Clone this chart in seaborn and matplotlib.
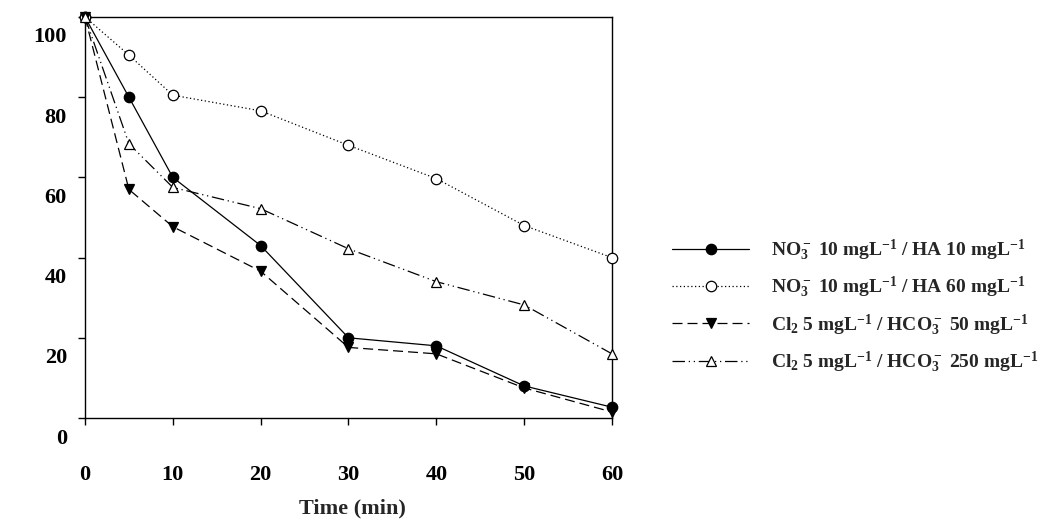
import matplotlib
matplotlib.use("Agg")
import matplotlib.pyplot as plt
import matplotlib.transforms as mtransforms
from matplotlib.lines import Line2D
import seaborn as sns
import pandas as pd

sns.set_theme(style="white")
plt.rcParams['font.family'] = ['Liberation Serif', 'DejaVu Serif']
plt.rcParams['mathtext.fontset'] = 'custom'
plt.rcParams['mathtext.rm'] = 'Liberation Serif:bold'
plt.rcParams['mathtext.bf'] = 'Liberation Serif:bold'
plt.rcParams['mathtext.it'] = 'Liberation Serif:bold'

# Data
time_min = [0, 5, 10, 20, 30, 40, 50, 60]
no3_ha10 = [100, 80, 60, 43, 20, 18, 8, 2.7]
no3_ha60 = [100, 90.5, 80.5, 76.6, 68, 59.7, 48, 40]
cl_hco3_50 = [100, 57, 47.7, 36.6, 17.6, 16, 7.5, 1.5]
cl_hco3_250 = [100, 68.4, 57.5, 52.2, 42.2, 34, 28.2, 16]

series_labels = [
    r"NO$_3^-$ 10 mgL$^{-1}$ / HA 10 mgL$^{-1}$",
    r"NO$_3^-$ 10 mgL$^{-1}$ / HA 60 mgL$^{-1}$",
    r"Cl$_2$ 5 mgL$^{-1}$ / HCO$_3^-$ 50 mgL$^{-1}$",
    r"Cl$_2$ 5 mgL$^{-1}$ / HCO$_3^-$ 250 mgL$^{-1}$",
]
x_ticks = [0, 10, 20, 30, 40, 50, 60]
y_ticks = [0, 20, 40, 60, 80, 100]
x_label = "Time (min)"

styles = [
    dict(marker="o", mfc="black", ls="-"),
    dict(marker="o", mfc="white", ls=(0, (1, 2))),
    dict(marker="v", mfc="black", ls=(0, (8, 4))),
    dict(marker="^", mfc="white", ls=(0, (10, 3, 1, 3, 1, 3))),
]
values = [no3_ha10, no3_ha60, cl_hco3_50, cl_hco3_250]

fig = plt.figure(figsize=(10.61, 5.26), dpi=100)
ax = fig.add_axes([0.0801, 0.2053, 0.4967, 0.7624])

handles = []
for vals, st, lab in zip(values, styles, series_labels):
    df = pd.DataFrame({"t": time_min, "v": vals})
    sns.lineplot(data=df, x="t", y="v", ax=ax, color="black", linewidth=0.9,
                 linestyle=st["ls"], marker=st["marker"], markersize=7.5,
                 markerfacecolor=st["mfc"], markeredgecolor="black",
                 markeredgewidth=0.9, legend=False, zorder=3, clip_on=False)
    handles.append(Line2D([0], [0], color="black", lw=0.9, ls=st["ls"],
                          marker=st["marker"], markersize=7.5,
                          markerfacecolor=st["mfc"], markeredgecolor="black",
                          markeredgewidth=0.9, label=lab))

ax.set_xlim(0, 60)
ax.set_ylim(0, 100)
ax.set_xticks(x_ticks)
ax.set_yticks(y_ticks)
ax.set_xticklabels([str(v) for v in x_ticks], fontsize=16, fontweight="bold")
ax.set_yticklabels([str(v) for v in y_ticks], fontsize=16, fontweight="bold")
ax.set_xlabel("")
ax.set_ylabel("")
for s in ax.spines.values():
    s.set_visible(True)
    s.set_color("black")
    s.set_linewidth(1.0)
ax.tick_params(axis="both", which="both", direction="out", length=5, width=1,
               colors="black", bottom=True, left=True, top=False, right=False)
ax.tick_params(axis="x", pad=29)
ax.tick_params(axis="y", pad=8)

off_y = mtransforms.ScaledTranslation(0, -18 / 100, fig.dpi_scale_trans)
for lbl in ax.get_yticklabels():
    lbl.set_transform(lbl.get_transform() + off_y)

fig.text(352 / 1061, 1 - 508 / 526, x_label, ha="center", va="center",
         fontsize=16, fontweight="bold")

leg = fig.legend(handles=handles, loc="center left",
                 bbox_to_anchor=(0.6166, 1 - 306 / 526), frameon=False,
                 prop={"size": 14, "weight": "bold"}, handlelength=4.0,
                 labelspacing=0.6, handletextpad=1.1)

fig.savefig("out.png", dpi=100)
